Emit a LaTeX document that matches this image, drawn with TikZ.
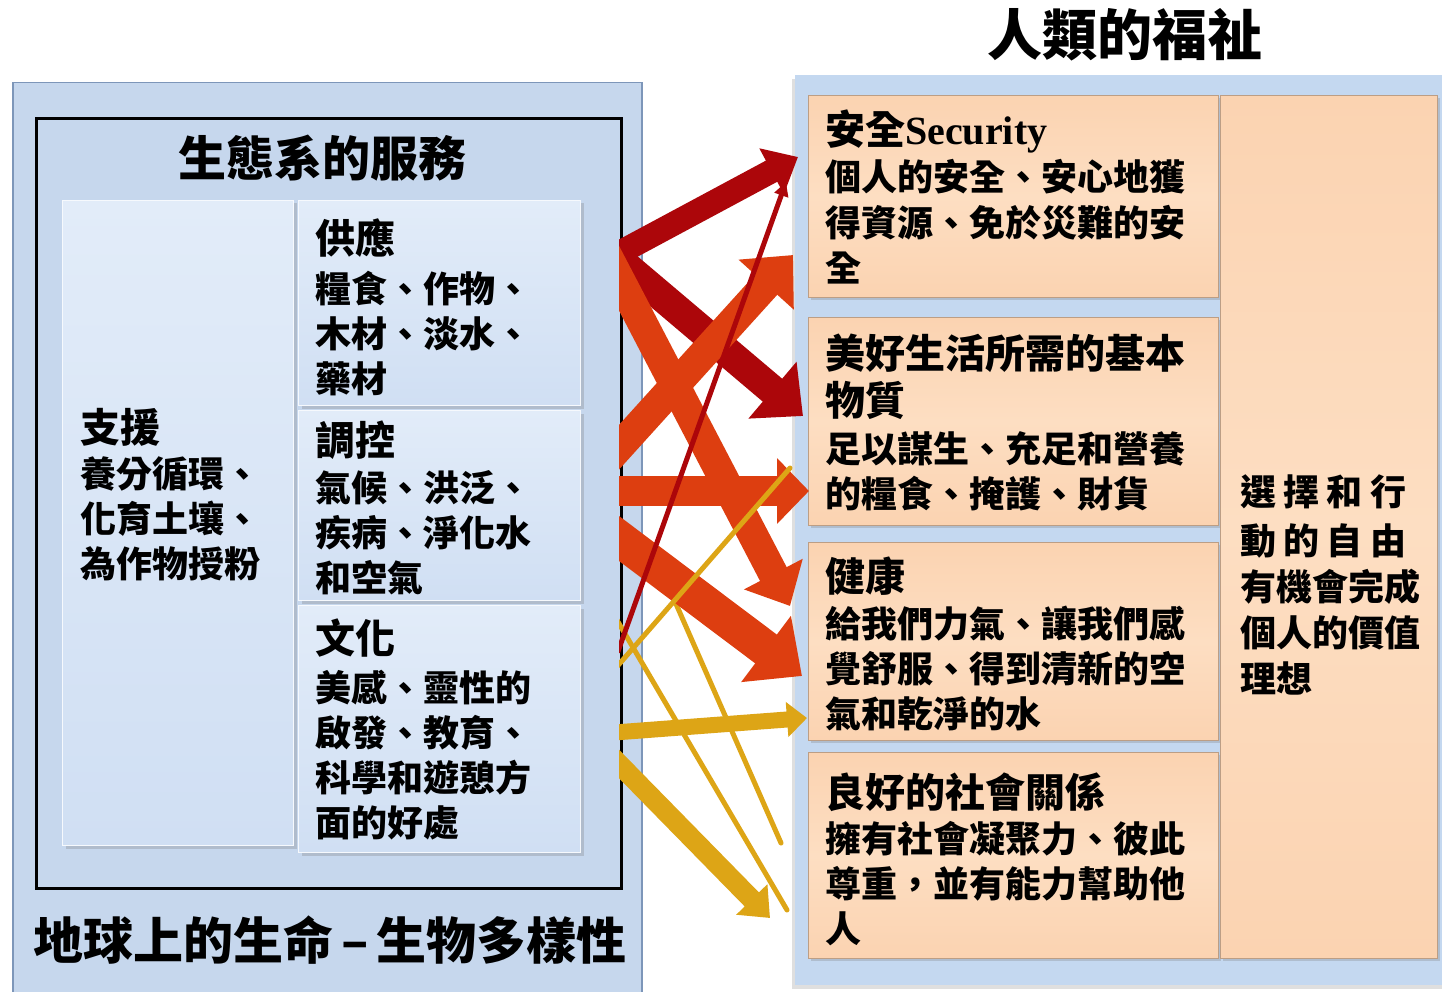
\documentclass[tikz,border=0pt]{standalone}
\usepackage{fontspec}
\usetikzlibrary{arrows.meta,shadows,calc}
\newfontfamily\cjk{Noto Sans CJK TC}
\newfontfamily\lat{Liberation Serif}
\definecolor{panelblue}{RGB}{198,215,237}
\definecolor{panelborder}{RGB}{125,150,185}
\definecolor{rightblue}{RGB}{196,216,240}
\definecolor{subtop}{RGB}{226,236,249}
\definecolor{subbot}{RGB}{208,223,243}
\definecolor{peach}{RGB}{251,211,177}
\definecolor{peachlight}{RGB}{253,222,194}
\definecolor{dred}{RGB}{172,6,10}
\definecolor{ored}{RGB}{221,62,16}
\definecolor{gold}{RGB}{221,165,22}
\newcommand\headtxt[1]{{\fontsize{40}{45}\selectfont #1}}
\tikzset{
  txt/.style={inner sep=0pt, anchor=base west, align=left,
    font=\cjk\bfseries\fontsize{36}{45}\selectfont},
  titletxt/.style={inner sep=0pt, font=\cjk\bfseries\fontsize{#1}{#1}\selectfont},
  subbox/.style={draw=white!70!subtop, line width=1pt, top color=subtop, bottom color=subbot,
    drop shadow={shadow xshift=3pt, shadow yshift=-3pt, opacity=.3},
    anchor=north west, inner sep=0pt},
  pbox/.style={draw=peach!75!black, line width=.8pt, top color=peach, bottom color=peach, middle color=peachlight,
    drop shadow={shadow xshift=3pt, shadow yshift=-3pt, opacity=.3},
    anchor=north west, inner sep=0pt},
  fat/.style n args={4}{line width=#2pt, color=#1, -{Triangle[width=#3pt,length=#4pt]}},
  thinline/.style={line width=5pt, color=#1, line cap=round},
}
\begin{document}
\begin{tikzpicture}[x=1pt,y=-1pt]
\useasboundingbox (0,0) rectangle (1442,992);
\clip (0,0) rectangle (1442,992);
\fill[white] (0,0) rectangle (1442,992);

% ---------- left panel ----------
\node[draw=panelborder, line width=1.5pt, fill=panelblue, anchor=north west, inner sep=0pt,
  minimum width=629pt, minimum height=940pt] (lifepanel) at (12,82) {};
\node[draw=black, line width=3pt, fill=panelblue, anchor=north west, inner sep=0pt,
  minimum width=585pt, minimum height=770pt] (svcbox) at (35,117) {};
\node[titletxt=48] (svctitle) at (322,158) {生態系的服務};
\node[subbox, minimum width=231pt, minimum height=645pt] (supbox) at (62,200) {};
\node[subbox, minimum width=282pt, minimum height=205pt] (provbox) at (298,200) {};
\node[subbox, minimum width=282pt, minimum height=190pt] (regbox) at (298,410) {};
\node[subbox, minimum width=282pt, minimum height=247pt] (culbox) at (298,605) {};

% (base anchor = baseline of the last line)
\node[txt] (suptxt) at (80,577) {\headtxt{支援}\\ 養分循環、\\ 化育土壤、\\ 為作物授粉};
\node[txt] (provtxt) at (315,392) {\headtxt{供應}\\[4pt] 糧食、作物、\\ 木材、淡水、\\ 藥材};
\node[txt] (regtxt) at (315,591) {\headtxt{調控}\\[1pt] 氣候、洪泛、\\ 疾病、淨化水\\ 和空氣};
\node[txt] (cultxt) at (315,836) {\headtxt{文化}\\[3pt] 美感、靈性的\\ 啟發、教育、\\ 科學和遊憩方\\ 面的好處};
\node[titletxt=50, anchor=west] (lifetxt) at (33,940) {地球上的生命\hspace{8pt}–\hspace{8pt}生物多樣性};

% ---------- right panel ----------
\node[titletxt=55] (wbtitle) at (1125,35) {人類的福祉};
\node[fill=rightblue, anchor=north west, inner sep=0pt,
  drop shadow={shadow xshift=-3pt, shadow yshift=-4pt, opacity=.25},
  minimum width=660pt, minimum height=910pt] (wbpanel) at (795,75) {};
\node[pbox, minimum width=410pt, minimum height=202pt] (secbox) at (808,95) {};
\node[pbox, minimum width=410pt, minimum height=208pt] (matbox) at (808,317) {};
\node[pbox, minimum width=410pt, minimum height=198pt] (heabox) at (808,542) {};
\node[pbox, minimum width=410pt, minimum height=206pt] (socbox) at (808,752) {};
\node[pbox, minimum width=217pt, minimum height=863pt] (freebox) at (1220,95) {};

\node[txt] (sectxt) at (825,281) {\headtxt{安全{\lat Security}}\\[2pt] 個人的安全、安心地獲\\ 得資源、免於災難的安\\ 全};
\node[txt] (mattxt) at (825,507) {\headtxt{美好生活所需的基本}\\[2pt] \headtxt{物質}\\[2pt] 足以謀生、充足和營養\\ 的糧食、掩護、財貨};
\node[txt] (heatxt) at (825,727) {\headtxt{健康}\\[1pt] 給我們力氣、讓我們感\\ 覺舒服、得到清新的空\\ 氣和乾淨的水};
\node[txt] (soctxt) at (825,942) {\headtxt{良好的社會關係}\\ 擁有社會凝聚力、彼此\\ 尊重，並有能力幫助他\\ 人};
\node[txt, font=\cjk\bfseries\fontsize{36}{46}\selectfont] (freetxt) at (1240,692)
  {\makebox[166pt][s]{選\hfill 擇\hfill 和\hfill 行}\\[3pt] \makebox[166pt][s]{動\hfill 的\hfill 自\hfill 由}\\ 有機會完成\\ 個人的價值\\ 理想};

% ---------- connector end points ----------
\coordinate (a1s) at (621,252); \coordinate (a1e) at (798,157);
\coordinate (a2s) at (621,262); \coordinate (a2e) at (803,416);
\coordinate (a3s) at (621,643); \coordinate (a3e) at (786,182);
\coordinate (o1s) at (621,445); \coordinate (o1e) at (793,255);
\coordinate (o2s) at (621,491); \coordinate (o2e) at (809,491);
\coordinate (o3s) at (621,282); \coordinate (o3e) at (790,606);
\coordinate (o4s) at (621,540); \coordinate (o4e) at (802,676);
\coordinate (g1s) at (621,662); \coordinate (g1e) at (790,468);
\coordinate (g2s) at (621,627); \coordinate (g2e) at (787,910);
\coordinate (g3s) at (662,572); \coordinate (g3e) at (781,843);
\coordinate (g4s) at (621,732); \coordinate (g4e) at (807,718);
\coordinate (g5s) at (621,766); \coordinate (g5e) at (770,918);

\begin{scope}
\clip (619,0) rectangle (1442,992);
\draw[thinline=gold] (g3s) -- (g3e);
\draw[fat={dred}{24}{50}{30}] ($(a1s)!-30pt!(a1e)$) -- (a1e);
\draw[fat={dred}{30}{72}{40}] ($(a2s)!-30pt!(a2e)$) -- (a2e);
\draw[fat={ored}{30}{64}{36}] ($(o3s)!-40pt!(o3e)$) -- (o3e);
\draw[fat={ored}{36}{80}{45}] ($(o4s)!-30pt!(o4e)$) -- (o4e);
\draw[fat={ored}{30}{72}{40}] ($(o1s)!-40pt!(o1e)$) -- (o1e);
\draw[fat={ored}{30}{64}{32}] ($(o2s)!-10pt!(o2e)$) -- (o2e);
\draw[fat={gold}{16}{34}{20}] ($(g4s)!-10pt!(g4e)$) -- (g4e);
\draw[fat={gold}{20}{42}{26}] ($(g5s)!-20pt!(g5e)$) -- (g5e);
\draw[thinline=gold] ($(g2s)!-10pt!(g2e)$) -- (g2e);
\draw[thinline=gold] ($(g1s)!-10pt!(g1e)$) -- (g1e);
\draw[line width=5pt, color=dred, -{Triangle[width=14pt,length=14pt]}] ($(a3s)!-10pt!(a3e)$) -- (a3e);
\end{scope}
\end{tikzpicture}
\end{document}
